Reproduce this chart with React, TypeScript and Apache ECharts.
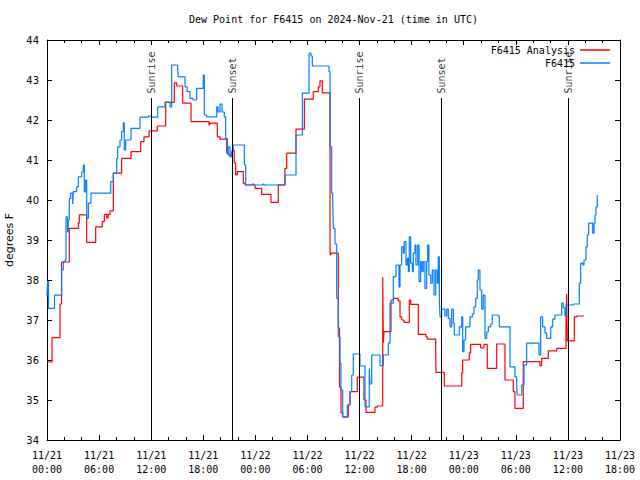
import React, { useEffect, useRef } from 'react';
import * as echarts from 'echarts';

// hours since 2024-11-21 00:00 UTC, dew point (°F)
const xTickLabels = [
  '11/21\n00:00', '11/21\n06:00', '11/21\n12:00', '11/21\n18:00',
  '11/22\n00:00', '11/22\n06:00', '11/22\n12:00', '11/22\n18:00',
  '11/23\n00:00', '11/23\n06:00', '11/23\n12:00', '11/23\n18:00',
];

const analysisData: number[][] = [
  [0.00, 35.95], [0.58, 36.56], [1.50, 37.4], [1.67, 38.45], [2.57, 39.29], [3.61, 39.42], [3.72, 39.63],
  [4.57, 38.94], [5.61, 39.33], [6.37, 39.46], [6.60, 39.64], [6.88, 39.55], [7.03, 39.64], [7.26, 39.73],
  [7.64, 40.67], [8.60, 41.04], [9.68, 41.21], [10.79, 41.46], [11.17, 41.58], [11.75, 41.73], [12.70, 41.85],
  [13.67, 42.44], [14.66, 42.93], [14.94, 42.85], [15.63, 42.42], [16.59, 41.96], [18.66, 41.88], [18.75, 41.92],
  [19.62, 41.58], [19.93, 41.52], [20.70, 41.17], [20.88, 41.12], [21.34, 41.25], [21.57, 40.93], [21.73, 40.63],
  [21.92, 40.71], [22.61, 40.42], [22.81, 40.375], [23.96, 40.29], [24.73, 40.14], [25.80, 39.94], [26.64, 40.38],
  [27.41, 40.79], [27.61, 41.17], [28.68, 41.77], [29.64, 42.52], [30.67, 42.71], [31.25, 42.83], [31.44, 42.98],
  [31.71, 42.68], [32.60, 38.67], [32.65, 38.62], [32.72, 38.67], [33.55, 36.8], [33.69, 35.33], [33.86, 34.68],
  [34.06, 34.58], [34.70, 34.88], [34.90, 35.21], [35.74, 35.57], [36.51, 35.0], [36.74, 34.69], [37.78, 34.82],
  [38.04, 34.85], [38.67, 38.07], [38.74, 36.43], [38.82, 36.71], [39.62, 37.5], [39.89, 37.54], [40.46, 37.48],
  [40.66, 37.08], [40.86, 37.0], [41.12, 36.94], [41.73, 37.5], [41.89, 37.39], [42.77, 36.64], [43.65, 36.58],
  [43.80, 36.52], [44.77, 36.13], [44.81, 35.69], [45.76, 35.35], [47.77, 35.68], [47.88, 36.0], [48.64, 36.18],
  [48.80, 36.39], [49.95, 36.3], [50.33, 36.39], [50.71, 35.79], [51.80, 36.4], [52.75, 35.5], [53.71, 35.21],
  [53.90, 34.79], [54.86, 35.96], [56.78, 35.85], [56.98, 36.04], [57.74, 36.23], [58.71, 36.29], [59.78, 36.92],
  [59.86, 37.65], [59.93, 36.48], [60.74, 37.08], [61.01, 37.1], [61.85, 37.1],
];

const stationData: number[][] = [
  [0.00, 37.6], [0.06, 37.96], [0.17, 37.29], [0.86, 37.62], [1.69, 38.25], [1.88, 38.46], [2.07, 38.5],
  [2.19, 39.58], [2.36, 39.2], [2.45, 39.5], [2.57, 40.04], [2.73, 40.17], [2.96, 39.9], [3.03, 40.21],
  [3.42, 40.33], [3.61, 40.58], [4.00, 40.7], [4.18, 40.875], [4.30, 40.2], [4.46, 40.5], [4.57, 39.54],
  [4.76, 39.92], [5.07, 40.17], [7.34, 40.46], [7.64, 40.67], [8.03, 41.04], [8.14, 41.33], [8.41, 41.5],
  [8.60, 41.71], [8.79, 41.93], [8.90, 41.25], [9.06, 41.5], [9.68, 41.79], [10.71, 42.07], [11.67, 42.1],
  [11.98, 42.07], [12.75, 42.33], [13.59, 42.45], [14.17, 42.33], [14.36, 43.375], [15.05, 43.3], [15.12, 43.08],
  [15.90, 42.83], [16.13, 42.71], [16.47, 42.54], [16.82, 42.5], [17.24, 42.79], [17.85, 42.79], [18.00, 43.125],
  [18.12, 42.125], [18.39, 42.08], [19.55, 42.33], [19.70, 42.2], [19.93, 42.4], [20.16, 42.2], [20.42, 42.08],
  [20.58, 41.54], [20.77, 41.17], [20.88, 41.33], [21.08, 41.08], [21.25, 41.2], [21.46, 41.375], [22.73, 40.875],
  [22.89, 40.375], [23.61, 40.4], [23.84, 40.375], [24.88, 40.4], [25.00, 40.375], [27.41, 40.625], [28.68, 41.625],
  [29.41, 42.67], [30.18, 43.67], [30.41, 43.6], [30.56, 43.35], [32.48, 43.21], [32.60, 41.33], [32.79, 40.17],
  [32.91, 40.0], [32.98, 39.29], [33.17, 38.9], [33.37, 37.54], [33.55, 36.58], [33.75, 35.92], [33.86, 35.25],
  [34.06, 34.58], [34.59, 34.875], [34.90, 35.21], [35.10, 35.625], [35.28, 36.15], [36.05, 35.85], [36.63, 34.83],
  [37.12, 35.79], [37.20, 35.4], [37.40, 36.125], [38.36, 35.86], [38.74, 36.125], [39.31, 36.42], [39.51, 37.42],
  [39.89, 38.08], [40.20, 38.375], [40.54, 37.83], [40.66, 38.375], [40.85, 38.83], [41.04, 38.67], [41.15, 38.96],
  [41.35, 38.375], [41.50, 38.54], [41.62, 38.21], [41.73, 39.08], [41.89, 38.42], [42.08, 38.21], [42.19, 38.67],
  [42.39, 38.875], [42.50, 38.375], [42.70, 38.875], [42.85, 37.96], [43.04, 38.46], [43.19, 38.21], [43.34, 38.46],
  [43.53, 37.79], [43.73, 38.46], [43.85, 38.875], [43.99, 38.125], [44.20, 37.92], [44.38, 38.25], [44.58, 37.625],
  [44.77, 38.25], [44.95, 37.92], [45.07, 38.58], [45.19, 37.5], [45.27, 37.08], [45.46, 37.27], [45.84, 37.1],
  [46.04, 37.27], [46.22, 37.04], [46.42, 36.83], [46.61, 37.27], [46.80, 36.92], [46.91, 36.625], [47.49, 36.83],
  [47.77, 37.08], [47.88, 36.21], [48.03, 36.5], [48.22, 36.83], [48.72, 37.08], [48.99, 37.15], [49.18, 37.33],
  [49.38, 37.54], [49.56, 38.0], [49.68, 38.25], [49.87, 37.75], [50.07, 37.27], [50.25, 37.625], [50.45, 36.54],
  [50.65, 36.7], [50.83, 36.83], [51.11, 36.9], [51.29, 37.125], [51.98, 37.1], [52.10, 36.83], [53.33, 35.83],
  [53.90, 35.58], [54.10, 35.33], [54.17, 35.125], [54.68, 35.375], [54.94, 35.875], [55.25, 36.42], [56.67, 36.125],
  [56.86, 37.08], [57.09, 36.83], [57.36, 36.67], [57.56, 36.54], [58.02, 36.83], [58.25, 37.02], [58.51, 37.125],
  [59.28, 37.42], [59.47, 37.3], [59.66, 37.1], [59.78, 37.375], [60.62, 37.4], [61.31, 37.92], [61.47, 38.42],
  [61.70, 38.375], [61.85, 38.5], [62.08, 38.83], [62.23, 39.125], [62.39, 39.42], [62.86, 39.17], [63.01, 39.42],
  [63.12, 39.625], [63.23, 39.83], [63.38, 40.125], [63.45, 40.125],
];

const sunHours = [11.98, 21.38, 35.94, 45.45, 60.05];
const sunNames = ['Sunrise', 'Sunset', 'Sunrise', 'Sunset', 'Sunrise'];
const sunLineBottom = 34;
const sunLineTop = 42.55;
const sunLabelAt = 42.66;

export default function App() {
  const ref = useRef<HTMLDivElement>(null);
  useEffect(() => {
    const chart = echarts.init(ref.current!, null, { renderer: 'svg' });
    const mono = 'DejaVu Sans Mono';
    const sans = 'DejaVu Sans';
    const black = '#000';
    const xCommon = {
      type: 'value' as const,
      min: 0,
      max: 66,
      interval: 6,
      axisLine: { show: true, onZero: false, lineStyle: { color: black, width: 1 } },
      axisTick: { show: true, inside: true, length: 5, lineStyle: { color: black } },
      minorTick: { show: true, splitNumber: 3, length: 3, lineStyle: { color: black } },
      splitLine: { show: false },
      minorSplitLine: { show: false },
    };
    const yCommon = {
      type: 'value' as const,
      min: 34,
      max: 44,
      interval: 1,
      axisLine: { show: true, onZero: false, lineStyle: { color: black, width: 1 } },
      axisTick: { show: true, inside: true, length: 5, lineStyle: { color: black } },
      splitLine: { show: false },
    };
    chart.setOption({
      animation: false,
      backgroundColor: '#fff',
      title: {
        text: 'Dew Point for F6415 on 2024-Nov-21 (time in UTC)',
        left: 189,
        top: 14,
        padding: 0,
        textStyle: { fontFamily: mono, fontSize: 10, fontWeight: 'normal', color: black },
      },
      legend: {
        data: ['F6415 Analysis', 'F6415'],
        orient: 'vertical',
        align: 'right',
        right: 30,
        top: 44,
        padding: 0,
        itemGap: 1,
        itemWidth: 30,
        itemHeight: 1.5,
        icon: 'rect',
        textStyle: { fontFamily: mono, fontSize: 10, lineHeight: 12, color: black },
      },
      grid: { left: 47, right: 20, top: 40, bottom: 40, containLabel: false, outerBoundsMode: 'none' },
      xAxis: [
        {
          ...xCommon,
          position: 'bottom',
          axisLabel: {
            show: true,
            formatter: (v: number) => xTickLabels[Math.round(v / 6)] ?? '',
            fontFamily: mono,
            fontSize: 10,
            lineHeight: 13.5,
            margin: 9,
            color: black,
          },
        },
        { ...xCommon, position: 'top', axisLabel: { show: false } },
      ],
      yAxis: [
        {
          ...yCommon,
          position: 'left',
          name: 'degrees F',
          nameLocation: 'middle',
          nameGap: 31,
          nameTextStyle: { fontFamily: sans, fontSize: 11, color: black },
          axisLabel: { show: true, fontFamily: sans, fontSize: 10, color: black, margin: 8 },
        },
        { ...yCommon, position: 'right', axisLabel: { show: false } },
      ],
      series: [
        {
          name: 'F6415 Analysis',
          type: 'line',
          step: 'end',
          data: analysisData,
          showSymbol: false,
          symbol: 'none',
          color: '#ff0000',
          lineStyle: { color: '#ff0000', width: 1.2 },
          xAxisIndex: 0,
          yAxisIndex: 0,
          z: 3,
        },
        {
          name: 'F6415',
          type: 'line',
          step: 'end',
          data: stationData,
          showSymbol: false,
          symbol: 'none',
          color: '#0080ff',
          lineStyle: { color: '#0080ff', width: 1.2 },
          xAxisIndex: 0,
          yAxisIndex: 0,
          z: 4,
        },
        {
          name: 'sun',
          type: 'scatter',
          xAxisIndex: 0,
          yAxisIndex: 0,
          symbolSize: 0,
          silent: true,
          data: sunHours.map((h, i) => ({ value: [h, sunLabelAt], name: sunNames[i] })),
          label: {
            show: true,
            formatter: '{b}',
            position: 'inside',
            rotate: 90,
            align: 'left',
            verticalAlign: 'middle',
            fontFamily: mono,
            fontSize: 10,
            color: black,
          },
          markLine: {
            silent: true,
            symbol: 'none',
            label: { show: false },
            lineStyle: { color: black, width: 1, type: 'solid' },
            data: sunHours.map((h) => [{ coord: [h, sunLineBottom] }, { coord: [h, sunLineTop] }]),
          },
          z: 2,
        },
      ],
    });
    return () => chart.dispose();
  }, []);
  return <div ref={ref} style={{ position: 'fixed', left: 0, top: 0, width: 640, height: 480 }} />;
}
